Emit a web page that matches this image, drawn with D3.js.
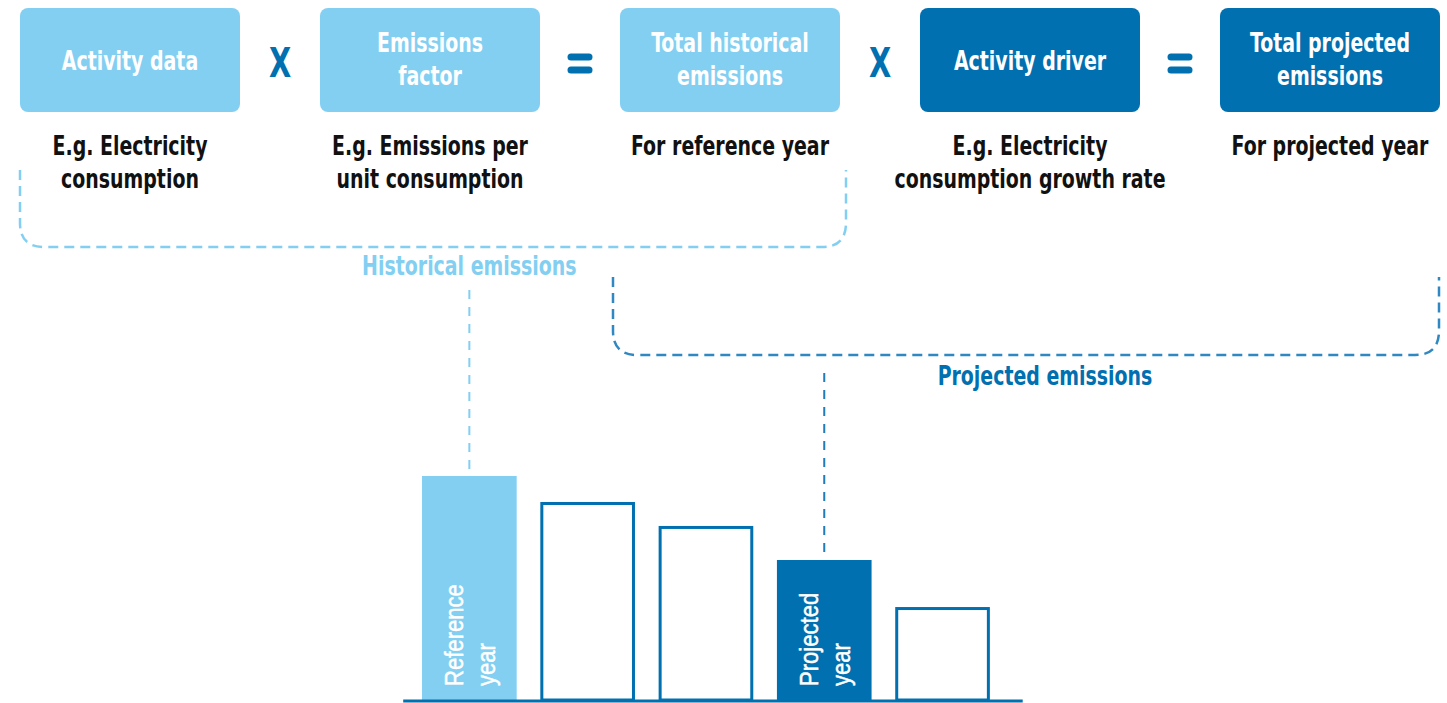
<!DOCTYPE html>
<html>
<head>
<meta charset="utf-8">
<script src="https://cdn.jsdelivr.net/npm/d3@7"></script>
<style>
  html, body { margin: 0; padding: 0; background: #fff; }
  svg { display: block; }
  text { font-family: "Liberation Sans Narrow", "Arial Narrow", "DejaVu Sans Condensed", sans-serif; }
</style>
</head>
<body>
<svg id="chart" width="1447" height="703"></svg>
<script>
// Formula boxes, left to right
var boxLines = [
    ['Activity data'],
    ['Emissions', 'factor'],
    ['Total historical', 'emissions'],
    ['Activity driver'],
    ['Total projected', 'emissions']
];
var boxKinds = ['historical', 'historical', 'historical', 'projected', 'projected'];
var descLines = [
    ['E.g. Electricity', 'consumption'],
    ['E.g. Emissions per', 'unit consumption'],
    ['For reference year'],
    ['E.g. Electricity', 'consumption growth rate'],
    ['For projected year']
];
var operators = ['X', '=', 'X', '='];

// Bars (relative emissions, reference year = 100)
var barIds = ['y1', 'y2', 'y3', 'y4', 'y5'];
var barValues = [100, 88.4, 77.7, 62.5, 41.5];
var barKinds = ['reference', 'other', 'other', 'projected', 'other'];
var barLabels = [['Reference', 'year'], [], [], ['Projected', 'year'], []];

var LIGHT = '#82cff2';
var DARK = '#0070b0';
var SX = 0.78; // squeeze the condensed font a bit more, like the original

var svg = d3.select('#chart');

// draws one line of horizontally squeezed text centred on x
function label(parent, x, yy, str, color, size) {
    parent.append('g')
        .attr('transform', 'translate(' + x + ',' + yy + ') scale(' + SX + ',1)')
        .append('text')
        .attr('text-anchor', 'middle')
        .style('fill', color)
        .style('font-size', size + 'px')
        .style('font-weight', 'bold')
        .text(str);
}

// ---- top row of boxes ----
var xBox = d3.scaleBand()
    .domain(d3.range(boxLines.length))
    .range([20, 1440])
    .paddingInner(80 / 300)
    .paddingOuter(0);
var bw = xBox.bandwidth();

var gBoxes = svg.append('g');
boxLines.forEach(function(lines, i) {
    gBoxes.append('rect')
        .attr('x', xBox(i))
        .attr('y', 8)
        .attr('width', bw)
        .attr('height', 104)
        .attr('rx', 8)
        .style('fill', boxKinds[i] === 'historical' ? LIGHT : DARK);
    lines.forEach(function(s, j) {
        var yy = lines.length === 1 ? 70 : 52 + j * 33;
        label(gBoxes, xBox(i) + bw / 2, yy, s, '#fff', 27);
    });
});

// operators between boxes
var gOps = svg.append('g');
operators.forEach(function(op, i) {
    var cx = xBox(i) + bw + 40;
    if (op === 'X') {
        label(gOps, cx, 77, 'X', DARK, 41);
    } else {
        // '=' drawn as two rounded bars
        gOps.selectAll(null)
            .data([57, 70])
            .enter().append('line')
            .attr('x1', cx - 9).attr('x2', cx + 9)
            .attr('y1', function(v) { return v; })
            .attr('y2', function(v) { return v; })
            .style('stroke', DARK)
            .style('stroke-width', 7)
            .style('stroke-linecap', 'round');
    }
});

// descriptions under boxes
var gDesc = svg.append('g');
descLines.forEach(function(lines, i) {
    lines.forEach(function(s, j) {
        label(gDesc, xBox(i) + bw / 2, 155 + j * 33, s, '#111', 27);
    });
});

// ---- bars ----
var xBar = d3.scaleBand()
    .domain(barIds)
    .range([410.2, 1001.7])
    .paddingInner(0.2)
    .paddingOuter(0.1);
var y = d3.scaleLinear().domain([0, 100]).range([700, 476]);
var barW = xBar.bandwidth();

// dashed brackets
function bracket(x0, x1, yTop, yBot, r) {
    var p = d3.path();
    p.moveTo(x0, yTop);
    p.lineTo(x0, yBot - r);
    p.quadraticCurveTo(x0, yBot, x0 + r, yBot);
    p.lineTo(x1 - r, yBot);
    p.quadraticCurveTo(x1, yBot, x1, yBot - r);
    p.lineTo(x1, yTop);
    return p.toString();
}

var histX0 = xBox(0), histX1 = xBox(2) + bw + 6;
var projX0 = xBox(2) - 7, projX1 = xBox(4) + bw - 1;

svg.append('path')
    .attr('d', bracket(histX0, histX1, 170, 247, 24))
    .style('fill', 'none')
    .style('stroke', LIGHT)
    .style('stroke-width', 2.5)
    .style('stroke-dasharray', '10,6');

svg.append('path')
    .attr('d', bracket(projX0, projX1, 277, 355, 24))
    .style('fill', 'none')
    .style('stroke', '#2f88c2')
    .style('stroke-width', 2.5)
    .style('stroke-dasharray', '10,6');

var refX = xBar('y1') + barW / 2;
var projX = xBar('y4') + barW / 2;

label(svg, refX, 275, 'Historical emissions', LIGHT, 27);
label(svg, (projX0 + projX1) / 2 + 19, 385, 'Projected emissions', DARK, 27);

// connectors from labels to bars
svg.append('line')
    .attr('x1', refX).attr('x2', refX)
    .attr('y1', 290).attr('y2', y(barValues[0]) - 6)
    .style('stroke', LIGHT)
    .style('stroke-width', 2)
    .style('stroke-dasharray', '9,8');

svg.append('line')
    .attr('x1', projX).attr('x2', projX)
    .attr('y1', 373).attr('y2', y(barValues[3]) - 4)
    .style('stroke', '#1f7dbb')
    .style('stroke-width', 2)
    .style('stroke-dasharray', '9,8');

var bars = svg.append('g').selectAll('g.bar')
    .data(barIds)
    .enter().append('g')
    .attr('class', 'bar');

bars.append('rect')
    .attr('x', function(d, i) { return barKinds[i] === 'other' ? xBar(d) + 1.5 : xBar(d); })
    .attr('width', function(d, i) { return barKinds[i] === 'other' ? barW - 3 : barW; })
    .attr('y', function(d, i) { return barKinds[i] === 'other' ? y(barValues[i]) + 1.5 : y(barValues[i]); })
    .attr('height', function(d, i) { return y(0) - y(barValues[i]) - (barKinds[i] === 'other' ? 1.5 : 0); })
    .style('fill', function(d, i) {
        return barKinds[i] === 'reference' ? LIGHT : barKinds[i] === 'projected' ? DARK : '#fff';
    })
    .style('stroke', function(d, i) { return barKinds[i] === 'other' ? DARK : 'none'; })
    .style('stroke-width', 3);

// rotated labels inside highlighted bars
bars.each(function(d, i) {
    if (!barLabels[i].length) return;
    var cx = xBar(d) + barW / 2;
    d3.select(this).selectAll('text')
        .data(barLabels[i])
        .enter().append('text')
        .attr('transform', function(s, j) {
            return 'translate(' + (cx - 6 + j * 32) + ',686) rotate(-90) scale(0.85,1)';
        })
        .style('font-family', '"Liberation Sans", Arial, sans-serif')
        .style('fill', '#fff')
        .style('stroke', '#fff')
        .style('stroke-width', 0.5)
        .style('font-size', '26px')
        .text(function(s) { return s; });
});

// baseline
svg.append('line')
    .attr('x1', xBar.range()[0] - 7)
    .attr('x2', xBar.range()[1] + 21)
    .attr('y1', 701).attr('y2', 701)
    .style('stroke', DARK)
    .style('stroke-width', 3);
</script>
</body>
</html>
